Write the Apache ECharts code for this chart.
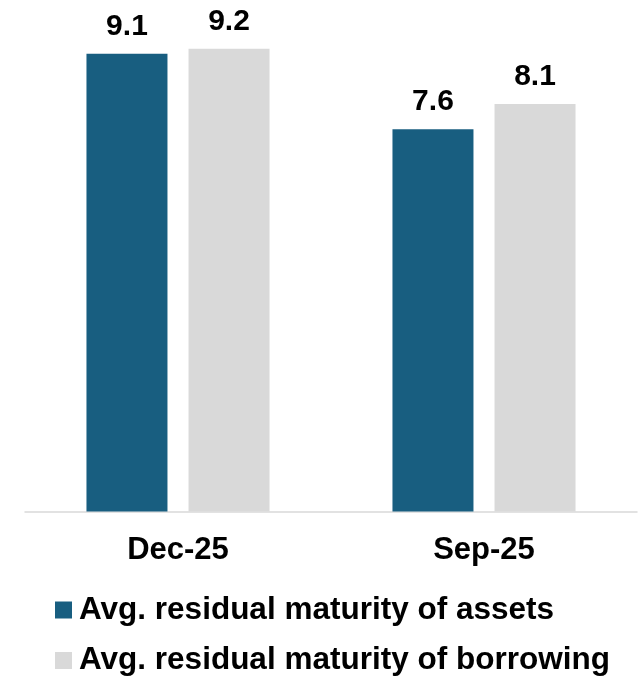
<!DOCTYPE html>
<html>
<head>
<meta charset="utf-8">
<script src="https://cdn.jsdelivr.net/npm/echarts@6/dist/echarts.min.js"></script>
<style>
html,body{margin:0;padding:0;background:#fff;}
#chart{width:643px;height:677px;}
</style>
</head>
<body>
<div id="chart"></div>
<script>
const categories = ['Dec-25', 'Sep-25'];
const seriesNames = ['Avg. residual maturity of assets', 'Avg. residual maturity of borrowing'];
const assets = [9.1, 7.6];
const borrowing = [9.2, 8.1];

const FONT = '"Liberation Sans", Arial, sans-serif';
const chart = echarts.init(document.getElementById('chart'), null, {renderer: 'canvas'});
const labelStyle = {
  show: true, position: 'top', distance: 12,
  fontFamily: FONT, fontWeight: 'bold', fontSize: 30, color: '#000',
  formatter: p => p.value.toFixed(1)
};
const legendBase = {
  orient: 'horizontal', left: 55, padding: 0,
  itemWidth: 17, itemHeight: 17,
  icon: 'rect',
  textStyle: {fontFamily: FONT, fontWeight: 'bold', fontSize: 31.5, lineHeight: 32, color: '#000', padding: [0,0,0,2]}
};
chart.setOption({
  animation: false,
  backgroundColor: '#fff',
  grid: {left: 25, right: 6, top: 8.5, bottom: 165.5, containLabel: false},
  xAxis: {
    type: 'category', data: categories,
    axisLine: {show: true, lineStyle: {color: '#d9d9d9', width: 1.5}},
    axisTick: {show: false},
    axisLabel: {fontFamily: FONT, fontWeight: 'bold', fontSize: 31, color: '#000', margin: 23}
  },
  yAxis: {type: 'value', min: 0, max: 10, show: false, splitLine: {show: false}},
  legend: [
    Object.assign({}, legendBase, {top: 594, data: [seriesNames[0]]}),
    Object.assign({}, legendBase, {top: 644.5, data: [seriesNames[1]]})
  ],
  series: [
    {name: seriesNames[0], type: 'bar', data: assets, barWidth: 81, barGap: '26%',
     itemStyle: {color: '#185e80'}, label: labelStyle},
    {name: seriesNames[1], type: 'bar', data: borrowing, barWidth: 81,
     itemStyle: {color: '#d9d9d9'}, label: labelStyle}
  ]
});
</script>
</body>
</html>
